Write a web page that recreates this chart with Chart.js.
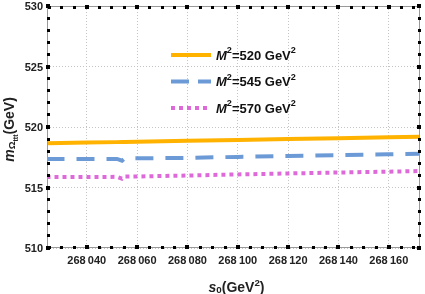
<!DOCTYPE html>
<html>
<head>
<meta charset="utf-8">
<script src="https://cdn.jsdelivr.net/npm/chart.js@4"></script>
<style>
  html, body { margin: 0; padding: 0; background: #fff; }
  #wrap { width: 425px; height: 294px; }
</style>
</head>
<body>
<div id="wrap"><canvas id="chart" width="425" height="294"></canvas></div>
<script>
// s0 grid (GeV^2) and masses (GeV) for the three Borel parameters
const s0 = [268024, 268040, 268052, 268054, 268055, 268060, 268080, 268100, 268120, 268140, 268160, 268173];
const m520 = [518.65, 518.71, 518.75, 518.76, 518.76, 518.78, 518.86, 518.93, 519.00, 519.08, 519.15, 519.20];
const m545 = [517.36, 517.36, 517.36, 517.22, 517.40, 517.41, 517.45, 517.53, 517.61, 517.68, 517.75, 517.79];
const m570 = [515.87, 515.87, 515.88, 515.73, 515.90, 515.91, 515.99, 516.08, 516.16, 516.24, 516.31, 516.36];
const legendLabels = ["520", "545", "570"];

const xTicks = [268040, 268060, 268080, 268100, 268120, 268140, 268160];
const yTicks = [510, 515, 520, 525, 530];
const xMin = 268024.2, xMax = 268172.4;
const yMin = 510, yMax = 530;

const FONT = "'Liberation Sans', Arial, sans-serif";

const pts = (ys) => s0.map((x, i) => ({ x: x, y: ys[i] }));

const datasets = [
  { label: legendLabels[0], data: pts(m520), borderColor: "#FFB200", borderWidth: 4, borderDash: [], borderCapStyle: "butt" },
  { label: legendLabels[1], data: pts(m545), borderColor: "#6C9AD6", borderWidth: 4, borderDash: [18, 12], borderCapStyle: "butt" },
  { label: legendLabels[2], data: pts(m570), borderColor: "#DE6AD9", borderWidth: 4, borderDash: [4, 4], borderCapStyle: "butt" }
];
datasets.forEach(d => { d.pointRadius = 0; d.tension = 0; d.fill = false; });

function fmtS(v) {
  const s = String(v);
  return s.slice(0, 3) + "\u2009" + s.slice(3);
}

// text pieces: [text, style]; styles n, i, sup, sub, subsub
function pieceFont(st, size) {
  let fs = size, dy = 0, it = "";
  if (st === "i") it = "italic ";
  if (st === "sup") { fs = size * 0.7; dy = -size * 0.4; }
  if (st === "sub") { fs = size * 0.7; dy = size * 0.08; }
  if (st === "subsub") { fs = size * 0.5; dy = size * 0.3; }
  return { font: it + "bold " + fs + "px " + FONT, dy: dy };
}
function drawRich(ctx, parts, x, y, size) {
  let cx = x;
  parts.forEach(([t, st]) => {
    const f = pieceFont(st, size);
    ctx.font = f.font;
    ctx.fillText(t, cx, y + f.dy);
    cx += ctx.measureText(t).width;
  });
  return cx - x;
}
function measureRich(ctx, parts, size) {
  let w = 0;
  parts.forEach(([t, st]) => {
    ctx.font = pieceFont(st, size).font;
    w += ctx.measureText(t).width;
  });
  return w;
}

const framePlugin = {
  id: "frame",
  afterDraw(chart) {
    const ctx = chart.ctx;
    const a = chart.chartArea;
    const xs = chart.scales.x, ys = chart.scales.y;
    ctx.save();
    // frame
    ctx.strokeStyle = "#999";
    ctx.lineWidth = 1;
    ctx.strokeRect(a.left + 0.5, a.top + 0.5, a.right - a.left - 1, a.bottom - a.top - 1);

    // tick squares
    ctx.fillStyle = "#000";
    const sq = (x, y, s) => ctx.fillRect(Math.round(x - s / 2), Math.round(y - s / 2), s, s);
    for (let v = 268025; v <= xMax; v += 5) {
      const px = xs.getPixelForValue(v);
      const major = v % 20 === 0;
      const s = major ? 4 : 3;
      sq(px, a.bottom - 1, s);
      sq(px, a.top + 1, s);
    }
    for (let v = yMin; v <= yMax; v += 1) {
      const py = ys.getPixelForValue(v);
      const major = v % 5 === 0;
      const s = major ? 4 : 3;
      sq(a.left + 1, py, s);
      sq(a.right - 1, py, s);
    }

    // tick labels
    ctx.fillStyle = "#222";
    ctx.font = "bold 11px " + FONT;
    ctx.textBaseline = "middle";
    ctx.textAlign = "right";
    yTicks.forEach(v => ctx.fillText(String(v), a.left - 4, ys.getPixelForValue(v) + 1));
    ctx.textAlign = "center";
    xTicks.forEach(v => ctx.fillText(fmtS(v), xs.getPixelForValue(v), a.bottom + 13));

    // x title
    ctx.textAlign = "left";
    ctx.textBaseline = "alphabetic";
    const xt = [["s", "i"], ["0", "sub"], ["(GeV", "n"], ["2", "sup"], [")", "n"]];
    const xw = measureRich(ctx, xt, 14);
    drawRich(ctx, xt, 236.5 - xw / 2, 292, 14);

    // y title (rotated)
    const yt = [["m", "i"], ["\u03A9", "sub"], ["ttt", "subsub"], ["(GeV)", "n"]];
    ctx.save();
    ctx.translate(14, 129.5);
    ctx.rotate(-Math.PI / 2);
    const yw = measureRich(ctx, yt, 14);
    drawRich(ctx, yt, -yw / 2, 0, 14);
    ctx.restore();

    // legend
    const rows = [55, 81.5, 108];
    chart.data.datasets.forEach((d, i) => {
      const y = rows[i];
      ctx.save();
      ctx.strokeStyle = d.borderColor;
      ctx.lineWidth = 4;
      ctx.lineCap = "butt";
      ctx.setLineDash(i === 1 ? [18, 9] : d.borderDash);
      ctx.beginPath();
      ctx.moveTo(171, y);
      ctx.lineTo(211, y);
      ctx.stroke();
      ctx.restore();
      ctx.fillStyle = "#111";
      ctx.textBaseline = "middle";
      drawRich(ctx, [["M", "i"], ["2", "sup"], ["=" + d.label + " GeV", "n"], ["2", "sup"]], 216, y + 1, 13);
    });
    ctx.restore();
  }
};

new Chart(document.getElementById("chart"), {
  type: "line",
  data: { datasets: datasets },
  options: {
    responsive: false,
    animation: false,
    events: [],
    layout: { padding: { left: 47, right: 5, top: 6, bottom: 46 } },
    plugins: { legend: { display: false }, tooltip: { enabled: false } },
    scales: {
      x: {
        type: "linear",
        min: xMin,
        max: xMax,
        afterBuildTicks: (s) => { s.ticks = xTicks.map(v => ({ value: v })); },
        ticks: { display: false },
        grid: { color: "#c4c4c4", drawTicks: false, lineWidth: 1 },
        border: { display: false, dash: [1, 2] }
      },
      y: {
        type: "linear",
        min: yMin,
        max: yMax,
        afterBuildTicks: (s) => { s.ticks = yTicks.map(v => ({ value: v })); },
        ticks: { display: false },
        grid: { color: "#c4c4c4", drawTicks: false, lineWidth: 1 },
        border: { display: false, dash: [1, 2] }
      }
    }
  },
  plugins: [framePlugin]
});
</script>
</body>
</html>
